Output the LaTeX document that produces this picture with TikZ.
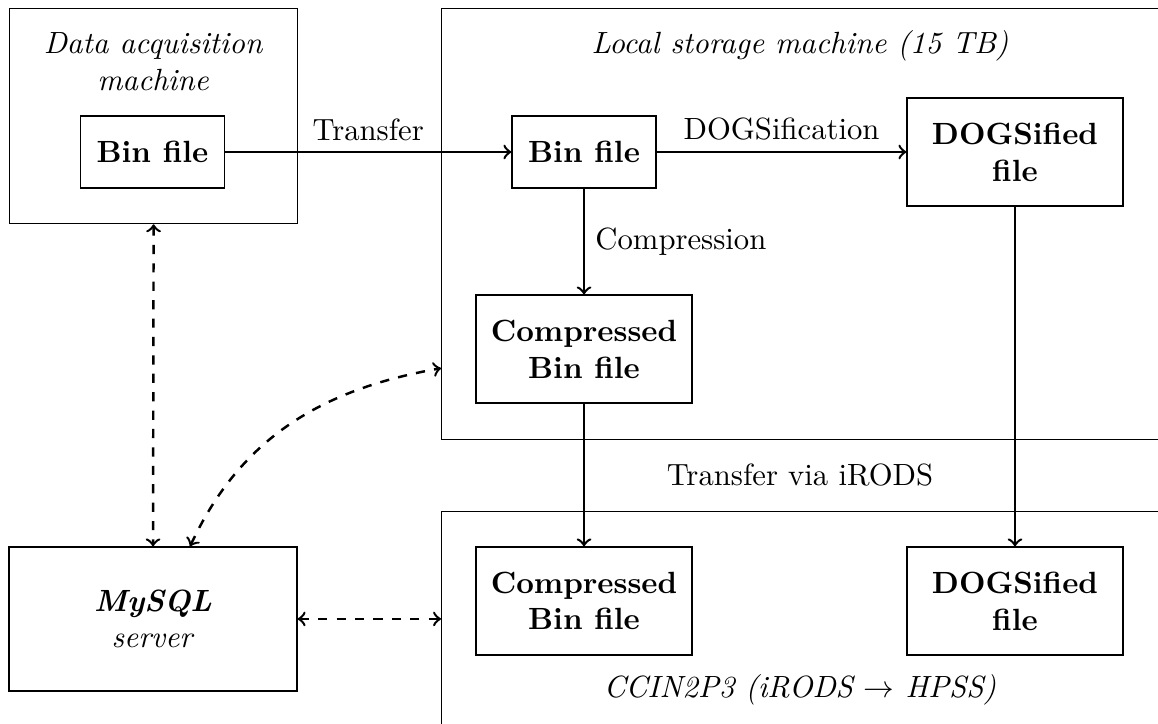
\documentclass[tikz,border=0pt]{standalone}
\usepackage{tikz}

\begin{document}
\begin{tikzpicture}[
        filebox/.style={draw, text centered, align=center, font=\bfseries, minimum width=2.474cm, minimum height=1.237cm, inner sep=0pt},
        binbox/.style={filebox, minimum width=1.65cm, minimum height=0.825cm},
        machine/.style={draw, anchor=north west, inner sep=0pt},
        title/.style={text centered, align=center, font=\itshape},
        flow/.style={->, thick},
        query/.style={<->, thick, dashed}
    ]
            \useasboundingbox (0,0) rectangle (13.265,-8.293);

            % machines
            \node[machine, minimum width=3.299cm, minimum height=2.463cm] at (0.103,-0.092) (acq) {};
            \node[machine, minimum width=9cm, minimum height=4.937cm] at (5.052,-0.092) (local) {};
            \node[machine, minimum width=9cm, minimum height=3cm] at (5.052,-5.853) (ccin) {};
            \node[draw, align=center, minimum width=3.299cm, minimum height=1.649cm] at (1.753,-7.090) (mysql) {\textbf{\textit{MySQL}}\\\textit{server}};

            \node[title] at (1.753,-0.71) (acqtitle) {Data acquisition\\machine};
            \node[title] at (9.164,-0.527) (localtitle) {Local storage machine (15 TB)};
            \node[title] at (9.164,-7.904) (ccintitle) {CCIN2P3 (iRODS $\rightarrow$ HPSS)};
            \node[text centered] at (9.164,-5.441) (irods) {Transfer via iRODS};

            % files
            \node[binbox] at (1.747,-1.741) (bin1) {Bin file};
            \node[binbox] at (6.690,-1.741) (bin2) {Bin file};
            \node[filebox] at (11.627,-1.741) (dog1) {DOGSified\\file};
            \node[filebox] at (6.690,-3.998) (comp1) {Compressed\\Bin file};
            \node[filebox] at (6.690,-6.884) (comp2) {Compressed\\Bin file};
            \node[filebox] at (11.627,-6.884) (dog2) {DOGSified\\file};

            \draw[flow] (bin1) -- node[above]{Transfer} (bin2);
            \draw[flow] (bin2) -- node[above]{DOGSification} (dog1);
            \draw[flow] (bin2) -- node[right]{Compression} (comp1);
            \draw[flow] (comp1) -- (comp2);
            \draw[flow] (dog1) -- (dog2);

            % database links
            \draw[query] (acq.south) -- (mysql.north);
            \draw[query] ([xshift=0.424cm]mysql.north) to[out=65, in=190] ([yshift=0.825cm]local.south west);
            \draw[query] (mysql.east) -- (mysql.east -| ccin.west);
        \end{tikzpicture}
\end{document}
